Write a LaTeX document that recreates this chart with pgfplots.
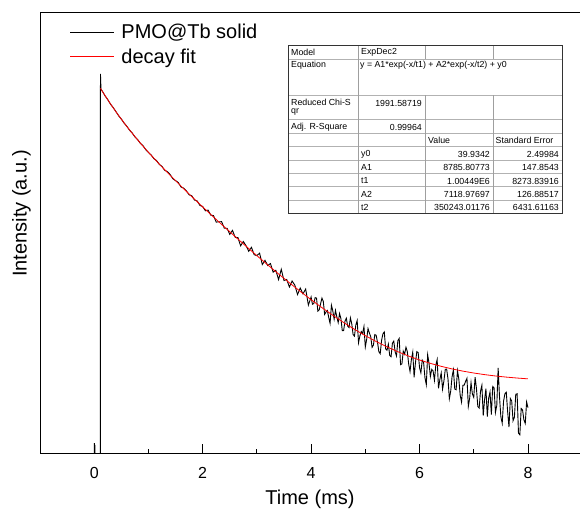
\documentclass[border=0pt]{standalone}
\usepackage{fontspec}
\setmainfont{Liberation Sans}
\usepackage{pgfplots}
\pgfplotsset{compat=1.18}
\begin{document}
\begin{tikzpicture}[x=1pt,y=1pt]
\useasboundingbox (0,0) rectangle (580,510);
\begin{axis}[
  at={(40pt,57pt)}, anchor=south west,
  scale only axis, width=540pt, height=441pt,
  xmin=-1, xmax=8.96, ymin=1, ymax=4.766,
  axis x line*=bottom, axis y line*=left,
  axis line style={line width=0.8pt, black},
  xtick={0,2,4,6,8}, minor xtick={1,3,5,7},
  ytick=\empty,
  tick align=inside,
  major tick length=8.5pt, minor tick length=4pt,
  every tick/.style={black, line width=0.8pt},
  /pgf/number format/assume math mode=true,
  xticklabel style={font=\fontsize{16}{18}\selectfont, yshift=-11pt},
  xlabel={Time (ms)},
  xlabel style={font=\fontsize{20}{24}\selectfont, at={(rel axis cs:0.5,-0.104)}, anchor=center},
  ylabel={Intensity (a.u.)},
  ylabel style={font=\fontsize{20}{24}\selectfont, at={(rel axis cs:-0.0343,0.543)}, anchor=center},
  legend style={at={(rel axis cs:0.0543,0.9744)}, anchor=north west, draw=none, fill=none,
    font=\fontsize{20}{24}\selectfont, row sep=6.2pt, inner sep=0pt,
    nodes={inner sep=1pt}},
  legend cell align=left,
  legend image code/.code={\draw[#1, line width=1pt] (0pt,0pt) -- (44pt,0pt); \path (50pt,0pt);},
]
\addplot[black, line width=0.9pt] coordinates {
(-0.02,0.5) (0.000,0.5) (0.004,1.085) (0.008,0.5) (0.012,1.07) (0.016,0.5) (0.112,0.5) (0.115,4.237) (0.125,4.105)
(0.15,4.090) (0.20,4.050) (0.25,4.018) (0.30,3.979) (0.35,3.950) (0.40,3.916) (0.45,3.880) (0.50,3.852)
(0.55,3.818) (0.60,3.791) (0.65,3.758) (0.70,3.733) (0.75,3.700) (0.80,3.677) (0.85,3.645) (0.90,3.624)
(0.95,3.591) (1.00,3.566) (1.05,3.545) (1.10,3.514) (1.15,3.497) (1.20,3.465) (1.25,3.447) (1.30,3.414)
(1.35,3.402) (1.40,3.378) (1.45,3.342) (1.50,3.326) (1.55,3.310) (1.60,3.272) (1.65,3.262) (1.70,3.238)
(1.75,3.205) (1.80,3.196) (1.85,3.160) (1.90,3.152) (1.95,3.114)
(2.00,3.1051) (2.05,3.0686) (2.10,3.0745) (2.15,3.0314) (2.20,3.0272) (2.25,2.9715) (2.30,2.9748) (2.35,2.9753)
(2.40,2.9189) (2.45,2.9190) (2.50,2.8672) (2.55,2.9012) (2.60,2.8419) (2.65,2.8396) (2.70,2.7689) (2.75,2.8060)
(2.80,2.7704) (2.85,2.7228) (2.90,2.7565) (2.95,2.6933) (3.00,2.6854) (3.05,2.7067) (3.10,2.6091) (3.15,2.6451)
(3.20,2.6009) (3.25,2.6182) (3.30,2.5446) (3.35,2.5602) (3.40,2.4807) (3.45,2.5687) (3.50,2.4724) (3.55,2.4820)
(3.60,2.4174) (3.65,2.4687) (3.70,2.4340) (3.75,2.3533) (3.80,2.4085) (3.85,2.3589) (3.90,2.3999) (3.95,2.2635)
(4.000,2.3321) (4.025,2.2702) (4.050,2.2768) (4.075,2.3266) (4.100,2.3224) (4.125,2.2113) (4.150,2.2222) (4.175,2.2738)
(4.200,2.3223) (4.225,2.2944) (4.250,2.1837) (4.275,2.2043) (4.300,2.2170) (4.325,2.1583) (4.350,2.1073) (4.375,2.2613)
(4.400,2.2150) (4.425,2.1423) (4.450,2.2177) (4.475,2.1618) (4.500,2.1141) (4.525,2.1913) (4.550,2.1479) (4.575,2.0449)
(4.600,2.0456) (4.625,2.1255) (4.650,2.1509) (4.675,2.0832) (4.700,2.0711) (4.725,2.1538) (4.750,2.1041) (4.775,2.0106)
(4.800,1.9980) (4.825,2.0932) (4.850,2.1309) (4.875,1.9421) (4.900,1.9992) (4.925,2.0373) (4.950,2.0205) (4.975,2.0796)
(5.000,1.9051) (5.025,1.9702) (5.050,2.0618) (5.075,2.0248) (5.100,1.9927) (5.125,1.9023) (5.150,1.9220) (5.175,2.0114)
(5.200,2.0055) (5.225,1.9462) (5.250,1.8646) (5.275,1.8476) (5.300,1.9620) (5.325,2.0172) (5.350,2.0343) (5.375,1.8896)
(5.400,1.8781) (5.425,1.9293) (5.450,1.8333) (5.475,1.8222) (5.500,1.9373) (5.525,1.9554) (5.550,1.8635) (5.575,1.8290)
(5.600,1.9588) (5.625,1.9783) (5.650,1.7543) (5.675,1.7612) (5.700,1.8701) (5.725,1.8442) (5.750,1.9032) (5.775,1.8651)
(5.800,1.7592) (5.825,1.6960) (5.850,1.7996) (5.875,1.8608) (5.900,1.6470) (5.925,1.7712) (5.950,1.8651) (5.975,1.8581)
(6.000,1.7297) (6.025,1.6842) (6.050,1.7933) (6.075,1.7736) (6.100,1.6428) (6.125,1.5831) (6.150,1.8393) (6.175,1.7667)
(6.200,1.6536) (6.225,1.7139) (6.250,1.7009) (6.275,1.6203) (6.300,1.7492) (6.325,1.7977) (6.350,1.5519) (6.375,1.6277)
(6.400,1.6833) (6.425,1.5454) (6.450,1.6157) (6.475,1.7148) (6.500,1.7164) (6.525,1.6329) (6.550,1.4633) (6.575,1.5282)
(6.600,1.6509) (6.625,1.7104) (6.650,1.5459) (6.675,1.5402) (6.700,1.7025) (6.725,1.6313) (6.750,1.4931) (6.775,1.4355)
(6.800,1.5780) (6.825,1.5803) (6.850,1.6126) (6.875,1.6378) (6.900,1.3983) (6.925,1.4685) (6.950,1.6004) (6.975,1.5035)
(7.000,1.4750) (7.025,1.6477) (7.050,1.5502) (7.075,1.3973) (7.100,1.3840) (7.125,1.5279) (7.150,1.5783) (7.175,1.3203)
(7.200,1.4578) (7.225,1.5489) (7.250,1.3118) (7.275,1.4678) (7.300,1.5197) (7.325,1.3285) (7.350,1.5678) (7.375,1.5553)
(7.400,1.3457) (7.425,1.4070) (7.450,1.7260) (7.475,1.4810) (7.500,1.3097) (7.525,1.2546) (7.550,1.4430) (7.575,1.5061)
(7.600,1.5190) (7.625,1.3536) (7.650,1.2209) (7.675,1.4647) (7.700,1.4436) (7.725,1.2754) (7.750,1.3054) (7.775,1.5011)
(7.800,1.5061) (7.825,1.1693) (7.850,1.1555) (7.875,1.3804) (7.900,1.3675) (7.925,1.2834) (7.950,1.2522) (7.975,1.4361)
(8.000,1.3873)
};
\addlegendentry{PMO@Tb solid}
\addplot[red, line width=0.8pt] coordinates {
(0.115,4.114) (0.15,4.088) (0.2,4.0516) (0.3,3.9814) (0.4,3.9144) (0.5,3.8506) (0.6,3.7895) (0.7,3.7309)
(0.8,3.6746) (0.9,3.6202) (1.0,3.5677) (1.2,3.4671) (1.4,3.3713) (1.6,3.279) (1.8,3.1892) (2.0,3.1015)
(2.2,3.0155) (2.4,2.9309) (2.6,2.8478) (2.8,2.7659) (3.0,2.6854) (3.2,2.6064) (3.4,2.529) (3.6,2.4535)
(3.8,2.3802) (4.0,2.3093) (4.2,2.2411) (4.4,2.1761) (4.6,2.1143) (4.8,2.0561) (5.0,2.002) (5.2,1.9519)
(5.4,1.9062) (5.6,1.8647) (5.8,1.8275) (6.0,1.7944) (6.2,1.7654) (6.4,1.74) (6.6,1.718) (6.8,1.6991)
(7.0,1.683) (7.2,1.6693) (7.4,1.6578) (7.6,1.6481) (7.8,1.6401) (8.0,1.6333)
};
\addlegendentry{decay fit}
\end{axis}
% top frame line
\draw[line width=0.8pt, black] (40,498) -- (580,498);
% fit-result table
\begin{scope}[every node/.style={inner sep=0pt, font=\fontsize{8.8}{10}\selectfont}]
\fill[white] (288,297) rectangle (562,465);
\draw[gray!60, line width=0.5pt]
  (288,450.5) -- (562,450.5) (288,414.5) -- (562,414.5) (288,390.5) -- (562,390.5)
  (288,377) -- (562,377) (288,363.5) -- (562,363.5) (288,350) -- (562,350)
  (288,337) -- (562,337) (288,323.5) -- (562,323.5) (288,310) -- (562,310);
\draw[gray!75, line width=0.6pt]
  (358,297) -- (358,465)
  (425,450.5) -- (425,465) (493,450.5) -- (493,465)
  (425,297) -- (425,414.5) (493,297) -- (493,414.5);
\draw[black!80, line width=0.9pt] (288,297) rectangle (562,465);
\node[anchor=west] at (291,458) {Model};
\node[anchor=west] at (361,458) {ExpDec2};
\node[anchor=west] at (291,444.3) {Equation};
\node[anchor=west] at (360,444.3) {y = A1*exp(-x/t1) + A2*exp(-x/t2) + y0};
\node[anchor=west, align=left, font=\fontsize{8.8}{8.4}\selectfont] at (291,402.5) {Reduced Chi-S\\qr};
\node[anchor=east] at (422,406.7) {1991.58719};
\node[anchor=west] at (291,382.7) {Adj. R-Square};
\node[anchor=east] at (422,382.7) {0.99964};
\node[anchor=west] at (428,370) {Value};
\node[anchor=west] at (495.5,370) {Standard Error};
\node[anchor=west] at (361,356) {y0};
\node[anchor=east] at (490,356) {39.9342};
\node[anchor=east] at (559,356) {2.49984};
\node[anchor=west] at (361,342.3) {A1};
\node[anchor=east] at (490,342.3) {8785.80773};
\node[anchor=east] at (559,342.3) {147.8543};
\node[anchor=west] at (361,329) {t1};
\node[anchor=east] at (490,329) {1.00449E6};
\node[anchor=east] at (559,329) {8273.83916};
\node[anchor=west] at (361,316) {A2};
\node[anchor=east] at (490,316) {7118.97697};
\node[anchor=east] at (559,316) {126.88517};
\node[anchor=west] at (361,302.3) {t2};
\node[anchor=east] at (490,302.3) {350243.01176};
\node[anchor=east] at (559,302.3) {6431.61163};
\end{scope}
\end{tikzpicture}
\end{document}
